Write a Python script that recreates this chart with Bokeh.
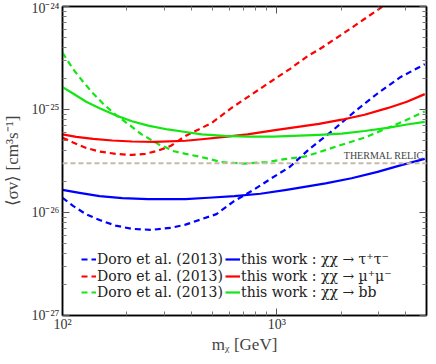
from bokeh.plotting import figure
from bokeh.models import (ColumnDataSource, LogAxis, FixedTicker, CustomJSTickFormatter,
                          Legend, LegendItem, Span, Label)
from bokeh.embed import file_html
from bokeh.resources import INLINE

# ---------------- data ----------------
# Doro et al. (2013), tau+tau-
doro_tau_m = [100, 112, 129, 149, 177, 211, 260, 321, 375, 523, 632, 780, 945, 1150, 1418, 1811, 2314, 2955, 3775, 4907]
doro_tau_sv = [1.39e-26, 1.16e-26, 9.6e-27, 8.45e-27, 7.46e-27, 6.94e-27, 6.79e-27, 7.1e-27, 7.62e-27, 9.64e-27,
               1.29e-26, 1.66e-26, 2.15e-26, 2.77e-26, 4.13e-26, 6.18e-26, 9.57e-26, 1.43e-25, 2.06e-25, 2.75e-25]
# this work, tau+tau-
this_tau_m = [100, 120, 149, 190, 251, 375, 480, 634, 839, 1111, 1690, 2234, 2955, 3775, 4907]
this_tau_sv = [1.66e-26, 1.55e-26, 1.44e-26, 1.38e-26, 1.35e-26, 1.35e-26, 1.39e-26, 1.44e-26, 1.52e-26, 1.66e-26,
               1.92e-26, 2.15e-26, 2.48e-26, 2.87e-26, 3.32e-26]
# Doro et al. (2013), mu+mu-
doro_mu_m = [100, 112, 129, 149, 177, 211, 243, 280, 321, 375, 497, 613, 756, 932, 1150, 1393, 1575, 1943, 2396, 3008, 3121]
doro_mu_sv = [5.33e-26, 4.79e-26, 4.23e-26, 3.91e-26, 3.71e-26, 3.62e-26, 3.71e-26, 3.99e-26, 4.45e-26, 5.54e-26,
              7.4e-26, 1.03e-25, 1.38e-25, 1.85e-25, 2.47e-25, 3.3e-25, 3.82e-25, 5.1e-25, 6.85e-25, 9.5e-25, 1.0e-24]
# this work, mu+mu-
this_mu_m = [100, 116, 139, 171, 211, 270, 375, 447, 571, 730, 965, 1575, 2011, 2570, 3283, 4050, 4907]
this_mu_sv = [5.74e-26, 5.42e-26, 5.19e-26, 5.0e-26, 4.89e-26, 4.86e-26, 4.97e-26, 5.14e-26, 5.42e-26, 5.74e-26,
              6.26e-26, 7.24e-26, 7.96e-26, 8.89e-26, 1.03e-25, 1.19e-25, 1.41e-25]
# Doro et al. (2013), b bbar
doro_bb_m = [100, 112, 125, 139, 154, 177, 204, 234, 280, 332, 375, 447, 552, 704, 900, 1111, 1346, 1575, 1943,
             2570, 3170, 3911, 4907]
doro_bb_sv = [3.56e-25, 2.47e-25, 1.85e-25, 1.43e-25, 1.15e-25, 8.9e-26, 7.15e-26, 5.74e-26, 4.61e-26, 3.93e-26,
              3.71e-26, 3.45e-26, 3.09e-26, 2.98e-26, 3.09e-26, 3.32e-26, 3.48e-26, 3.85e-26, 4.45e-26, 5.34e-26,
              6.4e-26, 7.69e-26, 9.57e-26]
# this work, b bbar
this_bb_m = [100, 112, 129, 149, 177, 211, 251, 310, 375, 447, 571, 730, 965, 1575, 2011, 2570, 3283, 4050, 4907]
this_bb_sv = [1.65e-25, 1.43e-25, 1.19e-25, 1.03e-25, 8.77e-26, 7.69e-26, 6.98e-26, 6.4e-26, 6.05e-26, 5.74e-26,
              5.54e-26, 5.46e-26, 5.46e-26, 5.66e-26, 5.82e-26, 6.18e-26, 6.64e-26, 7.15e-26, 7.57e-26]

thermal_relic = 3e-26
thermal_label = "THERMAL RELIC"

x_range = (100, 5000)
y_range = (1e-27, 1e-24)
x_major = [100, 1000]
x_minor = [200, 300, 400, 500, 600, 700, 800, 900, 2000, 3000, 4000, 5000]
y_major = [1e-27, 1e-26, 1e-25, 1e-24]
y_minor = [m * d for d in (1e-27, 1e-26, 1e-25) for m in range(2, 10)]

labels_doro = ["Doro et al. (2013)"] * 3
labels_this = ["this work : χχ → τ⁺τ⁻", "this work : χχ → μ⁺μ⁻", "this work : χχ → b̄b"]
x_label = "mᵪ [GeV]"
y_label = "⟨σv⟩ [cm³s⁻¹]"

# ---------------- style ----------------
BLUE, RED, GREEN = "#0000ff", "#ff0000", "#14e614"
SERIF = "'Liberation Serif', serif"
LEG_FONT = "'DejaVu Serif', serif"
LW = 2.2
DASH = "6 4"

p = figure(width=428, height=356, x_axis_type="log", y_axis_type="log",
           x_range=x_range, y_range=y_range, output_backend="svg", toolbar_location=None,
           min_border_left=61, min_border_right=2, min_border_top=6, min_border_bottom=40)
p.grid.visible = False
p.outline_line_color = "black"
p.outline_line_width = 1.5
p.background_fill_color = "white"
p.border_fill_color = "white"

sup_js = """
const sup = {"-":"\u207b","0":"\u2070","1":"\u00b9","2":"\u00b2","3":"\u00b3","4":"\u2074",
             "5":"\u2075","6":"\u2076","7":"\u2077","8":"\u2078","9":"\u2079"};
const e = Math.round(Math.log10(tick));
return "10" + String(e).split("").map(c => sup[c]).join("");
"""
fmt = CustomJSTickFormatter(code=sup_js)
blank = CustomJSTickFormatter(code="return '';")

def style_axis(ax, labelled):
    ax.major_tick_in = 7
    ax.major_tick_out = 0
    ax.minor_tick_in = 4
    ax.minor_tick_out = 0
    ax.axis_line_width = 1.5
    ax.major_tick_line_width = 1
    ax.minor_tick_line_width = 1
    ax.major_tick_line_color = "#555555"
    ax.minor_tick_line_color = "#777777"
    ax.major_label_text_font = SERIF
    ax.major_label_text_font_size = "14px"
    ax.major_label_text_color = "#333333"
    ax.axis_label_text_font = SERIF
    ax.axis_label_text_font_size = "17px"
    ax.axis_label_text_font_style = "normal"
    if not labelled:
        ax.formatter = blank
        ax.major_label_text_font_size = "0px"
        ax.major_label_standoff = 0

xt = FixedTicker(ticks=x_major, minor_ticks=x_minor)
yt = FixedTicker(ticks=y_major, minor_ticks=y_minor)

p.xaxis.ticker = xt
p.yaxis.ticker = yt
p.xaxis.formatter = fmt
p.yaxis.formatter = fmt
style_axis(p.xaxis[0], True)
style_axis(p.yaxis[0], True)
p.xaxis.major_label_standoff = 1
p.yaxis.major_label_standoff = 3
p.xaxis.axis_label = x_label
p.yaxis.axis_label = y_label
p.xaxis.axis_label_standoff = 0
p.yaxis.axis_label_standoff = 6

top = LogAxis(ticker=FixedTicker(ticks=x_major, minor_ticks=x_minor))
right = LogAxis(ticker=FixedTicker(ticks=y_major, minor_ticks=y_minor))
style_axis(top, False)
style_axis(right, False)
p.add_layout(top, "above")
p.add_layout(right, "right")

# thermal relic
p.add_layout(Span(location=thermal_relic, dimension="width", line_color="#c9b9a8",
                  line_width=2, line_dash="5 3"))
p.add_layout(Label(x=x_range[1], y=thermal_relic, text=thermal_label, text_align="right",
                   text_baseline="bottom", x_offset=-3, y_offset=2, text_font=SERIF,
                   text_font_size="10px", text_color="#444444"))

def line(m, sv, color, dash):
    src = ColumnDataSource(dict(m=m, sv=sv))
    return p.line("m", "sv", source=src, line_color=color, line_width=LW,
                  line_dash=dash, line_join="round")

r_dt = line(doro_tau_m, doro_tau_sv, BLUE, DASH)
r_dm = line(doro_mu_m, doro_mu_sv, RED, DASH)
r_db = line(doro_bb_m, doro_bb_sv, GREEN, DASH)
r_tt = line(this_tau_m, this_tau_sv, BLUE, "solid")
r_tm = line(this_mu_m, this_mu_sv, RED, "solid")
r_tb = line(this_bb_m, this_bb_sv, GREEN, "solid")

def make_legend(label, rend, loc):
    lg = Legend(items=[LegendItem(label=label, renderers=[rend])], location=loc)
    lg.padding = 0
    lg.margin = 0
    lg.spacing = 0
    lg.border_line_color = None
    lg.background_fill_alpha = 0
    lg.glyph_width = 15
    lg.glyph_height = 14
    lg.label_height = 14
    lg.label_standoff = 1
    lg.label_text_font = LEG_FONT
    lg.label_text_font_size = "14px"
    lg.label_text_color = "#222222"
    return lg

row_y = [48, 31, 15]
for lab, r, y in zip(labels_doro, [r_dt, r_dm, r_db], row_y):
    p.add_layout(make_legend(lab, r, (19, y)))
for lab, r, y in zip(labels_this, [r_tt, r_tm, r_tb], row_y):
    p.add_layout(make_legend(lab, r, (163, y)))

open("out.html", "w").write(file_html(p, INLINE))
